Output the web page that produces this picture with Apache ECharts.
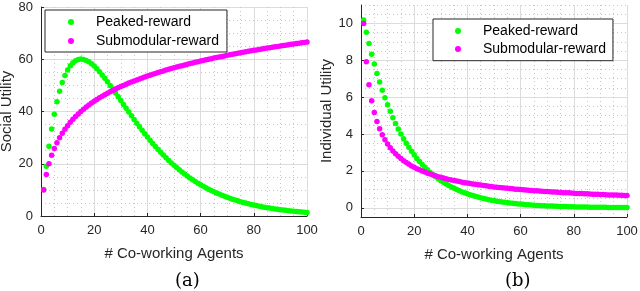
<!DOCTYPE html>
<html><head><meta charset="utf-8">
<script src="https://cdn.jsdelivr.net/npm/echarts@6/dist/echarts.min.js"></script>
<style>html,body{margin:0;padding:0;background:#fff}#c{width:640px;height:291px}</style>
</head><body><div id="c"></div>
<script>
const agents = [1,2,3,4,5,6,7,8,9,10,11,12,13,14,15,16,17,18,19,20,
21,22,23,24,25,26,27,28,29,30,31,32,33,34,35,36,37,38,39,40,
41,42,43,44,45,46,47,48,49,50,51,52,53,54,55,56,57,58,59,60,
61,62,63,64,65,66,67,68,69,70,71,72,73,74,75,76,77,78,79,80,
81,82,83,84,85,86,87,88,89,90,91,92,93,94,95,96,97,98,99,100];

const peakedSocial = [10.18,19.05,26.73,33.34,38.99,43.77,47.77,51.07,53.75,55.87,
57.49,58.67,59.46,59.91,60.05,59.92,59.56,59.00,58.26,57.37,
56.35,55.23,54.01,52.73,51.38,49.99,48.57,47.12,45.65,44.18,
42.71,41.24,39.79,38.35,36.93,35.54,34.17,32.83,31.52,30.24,
29.00,27.79,26.62,25.48,24.38,23.32,22.28,21.29,20.33,19.41,
18.52,17.66,16.84,16.06,15.30,14.57,13.87,13.21,12.57,11.96,
11.38,10.82,10.28,9.77,9.28,8.81,8.38,7.95,7.55,7.16,
6.79,6.45,6.12,5.80,5.50,5.21,4.94,4.68,4.44,4.20,
3.98,3.77,3.57,3.38,3.20,3.03,2.87,2.71,2.56,2.43,
2.30,2.17,2.05,1.94,1.84,1.74,1.64,1.56,1.47,1.38];

const submodSocial = [10.00,15.85,20.00,23.22,25.85,28.07,30.00,31.70,33.22,34.59,
35.85,37.00,38.07,39.07,40.00,40.87,41.70,42.48,43.22,43.92,
44.59,45.24,45.85,46.44,47.00,47.55,48.07,48.58,49.07,49.54,
50.00,50.44,50.87,51.29,51.70,52.09,52.48,52.85,53.22,53.58,
53.92,54.26,54.59,54.92,55.24,55.55,55.85,56.15,56.44,56.72,
57.00,57.28,57.55,57.81,58.07,58.33,58.58,58.83,59.07,59.31,
59.54,59.77,60.00,60.22,60.44,60.66,60.87,61.09,61.29,61.50,
61.70,61.90,62.09,62.29,62.48,62.67,62.85,63.04,63.22,63.40,
63.58,63.75,63.92,64.09,64.26,64.43,64.59,64.76,64.92,65.08,
65.24,65.39,65.55,65.70,65.85,66.00,66.15,66.29,66.44,66.58];

const peakedIndiv = [10.18,9.52,8.91,8.33,7.80,7.29,6.82,6.38,5.97,5.59,
5.23,4.89,4.57,4.28,4.00,3.75,3.50,3.28,3.07,2.87,
2.68,2.51,2.35,2.20,2.06,1.92,1.80,1.68,1.57,1.47,
1.38,1.29,1.21,1.13,1.06,0.99,0.92,0.86,0.81,0.76,
0.71,0.66,0.62,0.58,0.54,0.51,0.47,0.44,0.41,0.39,
0.36,0.34,0.32,0.30,0.28,0.26,0.24,0.23,0.21,0.20,
0.19,0.17,0.16,0.15,0.14,0.13,0.125,0.117,0.109,0.102,
0.096,0.090,0.084,0.078,0.073,0.069,0.064,0.060,0.056,0.053,
0.049,0.046,0.043,0.040,0.038,0.035,0.033,0.031,0.029,0.027,
0.025,0.024,0.022,0.021,0.019,0.018,0.017,0.016,0.015,0.014];

const submodIndiv = [10.00,7.92,6.67,5.80,5.17,4.68,4.29,3.96,3.69,3.46,
3.26,3.08,2.93,2.79,2.67,2.55,2.45,2.36,2.27,2.20,
2.12,2.06,1.99,1.94,1.88,1.83,1.78,1.74,1.69,1.65,
1.61,1.58,1.54,1.51,1.48,1.45,1.42,1.39,1.36,1.34,
1.32,1.29,1.27,1.25,1.23,1.21,1.19,1.17,1.15,1.13,
1.12,1.10,1.09,1.07,1.06,1.04,1.03,1.01,1.00,0.99,
0.98,0.96,0.95,0.94,0.93,0.92,0.91,0.90,0.89,0.88,
0.87,0.86,0.85,0.84,0.83,0.82,0.82,0.81,0.80,0.79,
0.78,0.78,0.77,0.76,0.76,0.75,0.74,0.74,0.73,0.72,
0.72,0.71,0.70,0.70,0.69,0.69,0.68,0.68,0.67,0.67];

const indivTicks = [0,2,4,6,8,10];
const seriesNames = ['Peaked-reward','Submodular-reward'];
const xName = '# Co-working Agents';

const FONT = '"Liberation Sans", Arial, Helvetica, sans-serif';
const AX = '#262626';
const MAJOR = {color:'#dcdcdc', width:1};
const MINOR = {color:'#c4c4c4', width:1, type:[1,3]};
const GREEN = '#00ff00', MAGENTA = '#ff00ff';

function pairs(arr){ return agents.map((n,i)=>[n, arr[i]]); }

function xAx(gi){
  return {type:'value', gridIndex:gi, position:'bottom', min:0, max:100, interval:20,
    axisLine:{show:true, onZero:false, lineStyle:{color:AX, width:1}},
    axisTick:{show:true, inside:true, length:3, lineStyle:{color:AX}},
    axisLabel:{color:AX, fontSize:13, fontFamily:FONT, margin:8},
    splitLine:{show:true, lineStyle:MAJOR},
    minorTick:{show:false, splitNumber:4},
    minorSplitLine:{show:true, lineStyle:MINOR},
    name:xName, nameLocation:'middle', nameGap:30,
    nameTextStyle:{color:AX, fontSize:15, fontFamily:FONT}};
}

function legend(left, top, pad, lh){
  return {orient:'vertical', left:left, top:top, data:seriesNames, icon:'circle',
    itemWidth:40, itemHeight:6, itemGap:0, padding:pad,
    borderColor:AX, borderWidth:1, backgroundColor:'#fff',
    selectedMode:false,
    textStyle:{color:'#000', fontSize:14, fontFamily:FONT, lineHeight:lh}};
}

function scat(name, color, data, xi, yi){
  return {type:'scatter', name:name, xAxisIndex:xi, yAxisIndex:yi, data:pairs(data),
    symbol:'circle', symbolSize:5.5, itemStyle:{color:color, opacity:1},
    emphasis:{disabled:true}, animation:false};
}

const chart = echarts.init(document.getElementById('c'), null, {renderer:'canvas'});
chart.setOption({
  animation:false,
  backgroundColor:'#fff',
  grid:[
    {left:41, right:333, top:7, bottom:75, containLabel:false, outerBoundsMode:'none'},
    {left:361, right:13, top:5, bottom:74, containLabel:false, outerBoundsMode:'none'}
  ],
  xAxis:[xAx(0), xAx(1)],
  yAxis:[
    {type:'value', gridIndex:0, position:'left', min:0, max:80, interval:20,
      axisLine:{show:true, onZero:false, lineStyle:{color:AX, width:1}},
      axisTick:{show:true, inside:true, length:3, lineStyle:{color:AX}},
      axisLabel:{color:AX, fontSize:13, fontFamily:FONT, margin:8},
      splitLine:{show:true, lineStyle:MAJOR},
      minorTick:{show:false, splitNumber:4},
      minorSplitLine:{show:true, lineStyle:MINOR},
      name:'Social Utility', nameLocation:'middle', nameGap:25,
      nameTextStyle:{color:AX, fontSize:15, fontFamily:FONT}},
    {type:'value', gridIndex:1, position:'left', min:-0.5, max:11, interval:0.5,
      axisLine:{show:false}, axisTick:{show:false}, axisLabel:{show:false},
      splitLine:{show:true, lineStyle:MINOR}},
    {type:'value', gridIndex:1, position:'left', offset:0, min:-0.5, max:11,
      axisLine:{show:true, onZero:false, lineStyle:{color:AX, width:1}},
      axisTick:{show:true, inside:true, length:3, lineStyle:{color:AX}, customValues:indivTicks},
      axisLabel:{color:AX, fontSize:13, fontFamily:FONT, margin:8, customValues:indivTicks},
      splitLine:{show:true, lineStyle:MAJOR},
      name:'Individual Utility', nameLocation:'middle', nameGap:25,
      nameTextStyle:{color:AX, fontSize:15, fontFamily:FONT}}
  ],
  legend:[
    legend(45, 10, [2.5, 8, 1.5, 23], 19),
    legend(433, 19, [3, 7, 2.7, 22], 18)
  ],
  series:[
    scat(seriesNames[0], GREEN, peakedSocial, 0, 0),
    scat(seriesNames[1], MAGENTA, submodSocial, 0, 0),
    scat(seriesNames[0], GREEN, peakedIndiv, 1, 2),
    scat(seriesNames[1], MAGENTA, submodIndiv, 1, 2)
  ],
  graphic:[
    {type:'text', left:175, top:272, style:{text:'(a)', font:'18px "DejaVu Serif", serif', fill:'#000'}},
    {type:'text', left:505, top:272, style:{text:'(b)', font:'18px "DejaVu Serif", serif', fill:'#000'}}
  ]
});
</script>
</body></html>
